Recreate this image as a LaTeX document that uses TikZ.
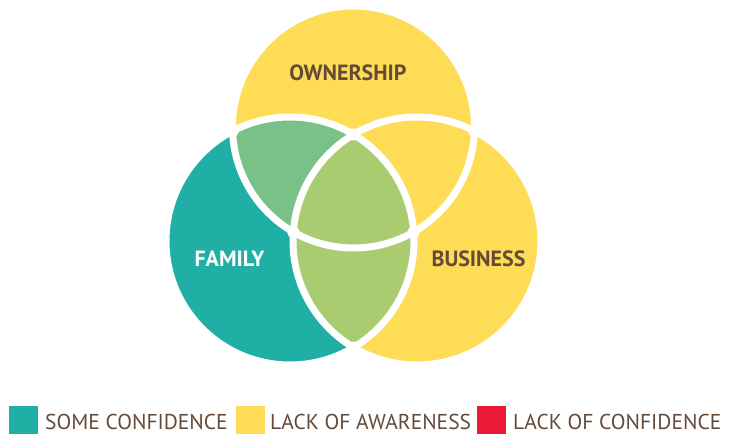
\documentclass[tikz,border=0pt]{standalone}
\usepackage{fontspec}
\setmainfont{PT Sans}
\usetikzlibrary{intersections}
\definecolor{teal1}{HTML}{1FAFA5}
\definecolor{yel1}{HTML}{FEDC55}
\definecolor{grn1}{HTML}{79C189}
\definecolor{grn2}{HTML}{AACC70}
\definecolor{brn1}{HTML}{654A38}
\definecolor{red1}{HTML}{ED1B3A}
\tikzset{
  gap/.style={draw=white,line width=7pt},
  lbl/.style={font=\fontsize{22}{22}\selectfont\bfseries,inner sep=0pt},
  legtxt/.style={font=\fontsize{21.5}{21.5}\selectfont,text=brn1,anchor=base west,inner sep=0pt},
  legbox/.style={minimum width=29pt,minimum height=28pt,inner sep=0pt,anchor=north west}
}
\begin{document}
\begin{tikzpicture}[x=1pt,y=-1pt]
\useasboundingbox (0,0) rectangle (735,435);
\coordinate (cO) at (353.5,127);
\coordinate (cF) at (290,241);
\coordinate (cB) at (417,241);
% base fills
\fill[yel1] (cO) circle[radius=121];
\fill[teal1] (cF) circle[radius=124];
\fill[yel1] (cB) circle[radius=124];
% ownership & family
\begin{scope}
  \clip (cO) circle[radius=121];
  \fill[grn1] (cF) circle[radius=124];
\end{scope}
% family & business (and centre)
\begin{scope}
  \clip (cF) circle[radius=124];
  \fill[grn2] (cB) circle[radius=124];
\end{scope}
% white gaps
\path[gap,name path=pO] (cO) circle[radius=121];
\path[gap,name path=pF] (cF) circle[radius=124];
\path[gap,name path=pB] (cB) circle[radius=124];
\path[name intersections={of=pO and pF,by={x1,x2}}];
\path[name intersections={of=pO and pB,by={x3,x4}}];
\path[name intersections={of=pF and pB,by={x5,x6}}];
\foreach \p in {x1,x2,x3,x4,x5,x6}
  \fill[white] (\p) circle[radius=6];
% labels
\node[lbl,text=brn1] (lO) at (348,73) {OWNERSHIP};
\node[lbl,text=white] (lF) at (229.5,259) {FAMILY};
\node[lbl,text=brn1] (lB) at (478.5,259) {BUSINESS};
% legend
\node[legbox,fill=teal1] (k1) at (8.5,406) {};
\node[legbox,fill=yel1] (k2) at (236,406) {};
\node[legbox,fill=red1] (k3) at (477,406) {};
\node[legtxt] (t1) at (45,429) {SOME CONFIDENCE};
\node[legtxt] (t2) at (270,429) {LACK OF AWARENESS};
\node[legtxt] (t3) at (513,429) {LACK OF CONFIDENCE};
\end{tikzpicture}
\end{document}
